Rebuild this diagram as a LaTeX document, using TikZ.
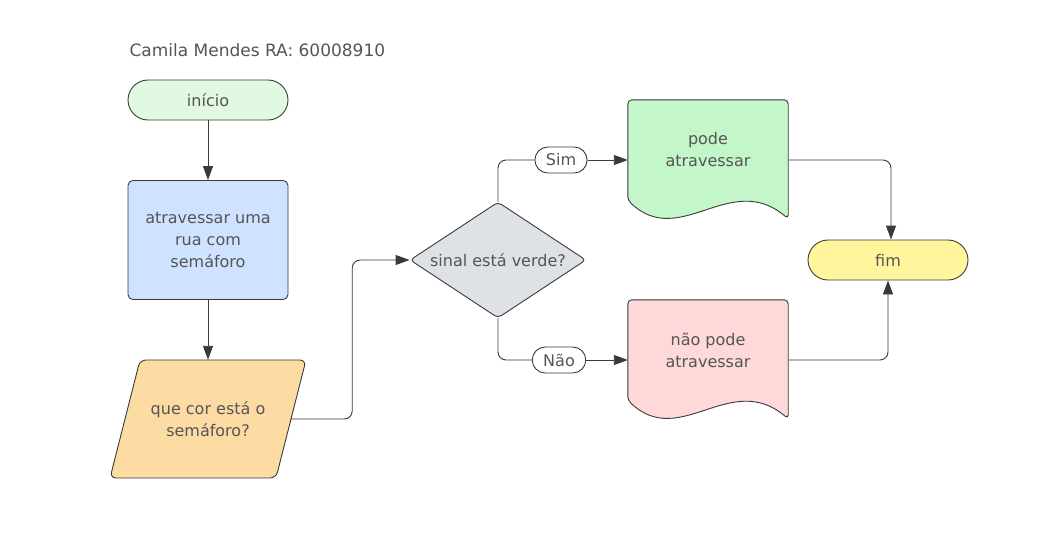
\documentclass[tikz,border=0pt]{standalone}
\usepackage{fontspec}
\setmainfont{DejaVu Sans}
\usetikzlibrary{shapes.geometric,arrows.meta,backgrounds}
\definecolor{txtgray}{HTML}{555555}
\definecolor{linegray}{HTML}{3A3A3A}
\definecolor{startgreen}{HTML}{E1F8E1}
\definecolor{boxblue}{HTML}{CFE2FF}
\definecolor{inorange}{HTML}{FDDCA4}
\definecolor{decgray}{HTML}{DEE1E6}
\definecolor{podegreen}{HTML}{C3F6C8}
\definecolor{naopink}{HTML}{FFD8DA}
\definecolor{endyellow}{HTML}{FFF59D}
\begin{document}
\begin{tikzpicture}[x=1pt,y=-1pt,
    every node/.style={font=\fontsize{16}{22}\selectfont, text=txtgray, align=center},
    shape line/.style={draw=linegray, line width=0.9pt},
    pill/.style={shape line, rounded corners=20pt, minimum width=160pt, minimum height=40pt},
    actbox/.style={shape line, rounded corners=5pt, minimum width=160pt, minimum height=119pt},
    decision/.style={shape line, diamond, aspect=1.52, rounded corners=4pt, minimum width=176pt, minimum height=116pt, inner sep=0pt},
    doctext/.style={minimum width=160pt, minimum height=100pt},
    tag/.style={shape line, fill=white, rounded corners=13pt, minimum height=26pt, inner xsep=11pt, inner ysep=0pt},
    line/.style={draw=linegray, line width=0.9pt, rounded corners=8pt},
    flow/.style={line, -{Triangle[length=14pt,width=10pt]}}
  ]
  \path[use as bounding box] (0,0) rectangle (1063,555);

  \node[anchor=west, font=\fontsize{17}{22}\selectfont] (autor) at (126,50) {Camila Mendes RA: 60008910};

  \node[pill, fill=startgreen] (inicio) at (208,100) {início};
  \node[actbox, fill=boxblue] (acao) at (208,240) {atravessar uma\\rua com\\semáforo};
  \node[minimum width=166pt, minimum height=118pt] (cor) at (208,419) {que cor está o\\semáforo?};
  \node[decision, fill=decgray] (sinal) at (498,260) {sinal está verde?};
  \node[tag] (sim) at (561,160) {Sim};
  \node[tag] (nao) at (559,360) {Não};
  \node[doctext] (pode) at (708,150) {pode\\atravessar};
  \node[doctext] (naopode) at (708,350) {não pode\\atravessar};
  \node[pill, fill=endyellow] (fim) at (888,260) {fim};

  % shapes behind the texts
  \begin{scope}[on background layer]
    \fill[white] (0,0) rectangle (1063,555);
    \draw[shape line, fill=inorange, rounded corners=6pt]
      ([shift={(-68,-59)}]cor.center) -- ([shift={(98,-59)}]cor.center)
      -- ([shift={(68,59)}]cor.center) -- ([shift={(-98,59)}]cor.center) -- cycle;
    \draw[shape line, fill=podegreen, rounded corners=4pt]
      (pode.south west) -- (pode.north west) -- (pode.north east) -- ++(0,119)
      .. controls +(-58,-49) and +(52,50) .. (pode.south west) -- cycle;
    \draw[shape line, fill=naopink, rounded corners=4pt]
      (naopode.south west) -- (naopode.north west) -- (naopode.north east) -- ++(0,119)
      .. controls +(-58,-49) and +(52,50) .. (naopode.south west) -- cycle;
  \end{scope}

  \draw[flow] (inicio) -- (acao);
  \draw[flow] (acao) -- (cor);
  \draw[flow] (cor.east) -- ++(61,0) |- (sinal.west);
  \draw[line] (sinal.north) |- (sim.west);
  \draw[flow] (sim.east) -- (sim.east -| pode.west);
  \draw[line] (sinal.south) |- (nao.west);
  \draw[flow] (nao.east) -- (nao.east -| naopode.west);
  \draw[flow] (pode.east |- sim) -| ([xshift=3pt]fim.north);
  \draw[flow] (naopode.east |- nao) -| (fim.south);
\end{tikzpicture}
\end{document}
